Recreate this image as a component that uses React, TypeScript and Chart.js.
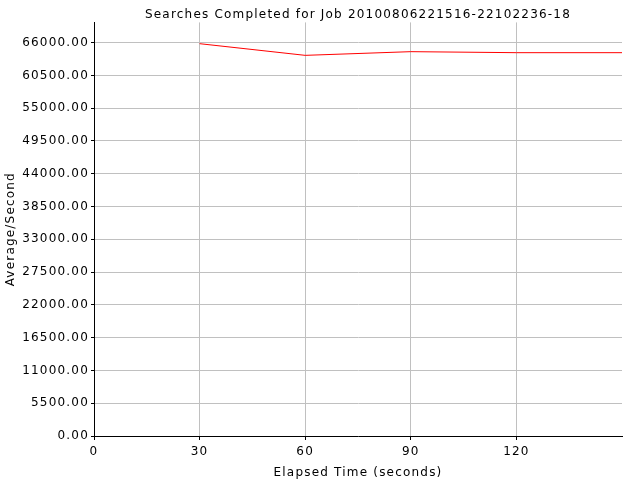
import React, { useEffect, useRef } from "react";
import { Chart, registerables } from "chart.js";

Chart.register(...registerables);

const chartTitle = "Searches Completed for Job 20100806221516-22102236-18";
const xAxisTitle = "Elapsed Time (seconds)";
const yAxisTitle = "Average/Second";

const elapsedSeconds = [30, 60, 90, 120, 150];
const averagePerSecond = [65830, 63870, 64490, 64320, 64320];

const xTickValues = [0, 30, 60, 90, 120];
const yTickValues = [0, 5500, 11000, 16500, 22000, 27500, 33000, 38500, 44000, 49500, 55000, 60500, 66000];

const LETTER_SPACING = "1.2px";

const spacingPlugin = {
  id: "letterSpacing",
  beforeUpdate(chart: any) {
    chart.ctx.letterSpacing = LETTER_SPACING;
  },
  beforeLayout(chart: any) {
    chart.ctx.letterSpacing = LETTER_SPACING;
  },
  beforeDraw(chart: any) {
    chart.ctx.letterSpacing = LETTER_SPACING;
  },
};

export default function App() {
  const ref = useRef<HTMLCanvasElement | null>(null);

  useEffect(() => {
    const canvas = ref.current;
    if (!canvas) return;
    const chart = new Chart(canvas, {
      type: "line",
      data: {
        datasets: [
          {
            label: "Searches Completed",
            data: elapsedSeconds.map((x, i) => ({ x, y: averagePerSecond[i] })),
            borderColor: "#ff0000",
            backgroundColor: "#ff0000",
            borderWidth: 1,
            pointRadius: 0,
            tension: 0,
            fill: false,
          },
        ],
      },
      plugins: [spacingPlugin],
      options: {
        animation: false,
        responsive: false,
        devicePixelRatio: 1,
        layout: { padding: { left: 0, right: 18, top: 0, bottom: 0 } },
        font: { family: "'DejaVu Sans'", size: 12 },
        color: "#000",
        plugins: {
          legend: { display: false },
          tooltip: { enabled: false },
          title: {
            display: true,
            text: chartTitle,
            fullSize: false,
            color: "#000",
            font: { family: "'DejaVu Sans'", size: 12, weight: "normal", lineHeight: 1.2 },
            padding: { top: 8, bottom: 0 },
          },
        },
        scales: {
          x: {
            type: "linear",
            min: 0,
            max: 150,
            afterBuildTicks: (scale: any) => {
              scale.ticks = xTickValues.map((v) => ({ value: v }));
            },
            afterFit: (scale: any) => {
              scale.height = 44;
            },
            ticks: {
              color: "#000",
              font: { family: "'DejaVu Sans'", size: 12 },
              padding: 5,
              maxRotation: 0,
              autoSkip: false,
              callback: (v: any) => String(v),
            },
            grid: { color: "#c0c0c0", tickColor: "#000", tickLength: 4, lineWidth: 1 },
            border: { color: "#000", width: 1 },
            title: {
              display: true,
              text: xAxisTitle,
              color: "#000",
              font: { family: "'DejaVu Sans'", size: 12 },
              padding: { top: 4, bottom: 0 },
            },
          },
          y: {
            type: "linear",
            min: 0,
            max: 69400,
            afterBuildTicks: (scale: any) => {
              scale.ticks = yTickValues.map((v) => ({ value: v }));
            },
            afterFit: (scale: any) => {
              scale.width = 94;
            },
            ticks: {
              color: "#000",
              font: { family: "'DejaVu Sans'", size: 12 },
              padding: 2,
              autoSkip: false,
              callback: (v: any) => Number(v).toFixed(2),
            },
            grid: { color: "#c0c0c0", tickColor: "#000", tickLength: 3, lineWidth: 1 },
            border: { color: "#000", width: 1 },
            title: {
              display: true,
              text: yAxisTitle,
              color: "#000",
              font: { family: "'DejaVu Sans'", size: 12 },
              padding: { top: 4, bottom: 4 },
            },
          },
        },
      },
    } as any);
    return () => chart.destroy();
  }, []);

  return (
    <div style={{ position: "absolute", left: 0, top: 0, width: 640, height: 480, background: "#fff" }}>
      <canvas ref={ref} width={640} height={480} style={{ width: 640, height: 480, display: "block" }} />
    </div>
  );
}
